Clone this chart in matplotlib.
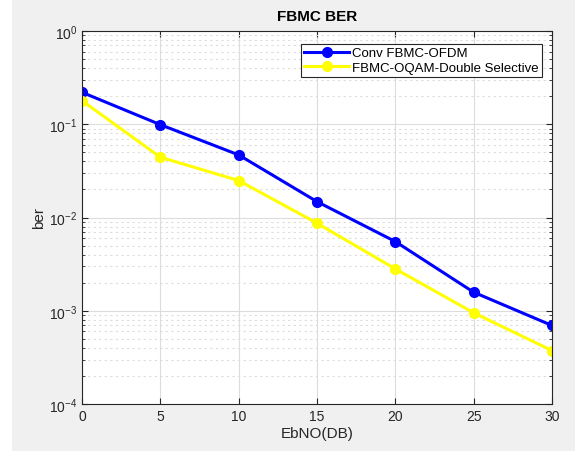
import numpy as np
import matplotlib.pyplot as plt
from matplotlib.patches import Rectangle

plt.rcParams['font.family'] = ['Liberation Sans', 'DejaVu Sans']

# data
ebno = [0, 5, 10, 15, 20, 25, 30]
ber_conv = [0.220, 0.099, 0.0469, 0.0148, 0.00552, 0.00158, 0.000695]
ber_oqam = [0.179, 0.0443, 0.0249, 0.00869, 0.00281, 0.00095, 0.000374]
labels = ['Conv FBMC-OFDM', 'FBMC-OQAM-Double Selective']

fig = plt.figure(figsize=(5.86, 4.52), dpi=100, facecolor='#f0f0f0')
# white strips on the left and right edges, as in the screenshot
fig.patches.append(Rectangle((0, 0), 12/586, 1, transform=fig.transFigure,
                             facecolor='white', edgecolor='none', zorder=-1))
fig.patches.append(Rectangle((575/586, 0), 11/586, 1, transform=fig.transFigure,
                             facecolor='white', edgecolor='none', zorder=-1))
ax = fig.add_axes([82/586, 1-405/452, 470/586, 373/452])

ax.semilogy(ebno, ber_conv, '-o', color='#0000ff', lw=2.2, ms=7, label=labels[0])
ax.semilogy(ebno, ber_oqam, '-o', color='#ffff00', lw=2.2, ms=7, label=labels[1])

ax.set_xlim(0, 30)
ax.set_ylim(1e-4, 1)
ax.set_xticks([0, 5, 10, 15, 20, 25, 30])

# MATLAB-like look
ax.grid(True, which='major', color='#dcdcdc', lw=0.8)
ax.grid(True, which='minor', axis='y', color='#dcdcdc', lw=0.8, ls=(0, (2, 3)))
ax.set_axisbelow(True)
ax.tick_params(which='both', direction='in', top=True, right=True,
               colors='#262626', labelsize=10)
ax.tick_params(which='major', length=4)
ax.tick_params(which='minor', length=2)
ax.tick_params(axis='x', which='minor', bottom=False, top=False)
for s in ax.spines.values():
    s.set_color('#262626')
    s.set_linewidth(0.8)

ax.set_title('FBMC BER', fontsize=11, fontweight='bold', color='#000000', pad=8)
ax.set_xlabel('EbNO(DB)', fontsize=11, color='#262626', labelpad=2)
ax.set_ylabel('ber', fontsize=11, color='#262626', labelpad=2)

leg = ax.legend(loc='upper right', bbox_to_anchor=(0.978, 0.966), fontsize=9.5,
                fancybox=False, framealpha=1, edgecolor='#262626',
                handlelength=3.4, borderpad=0.25, labelspacing=0.2,
                handletextpad=0.2, borderaxespad=0)
leg.get_frame().set_linewidth(0.8)

fig.savefig('out.png', dpi=100, facecolor=fig.get_facecolor())
